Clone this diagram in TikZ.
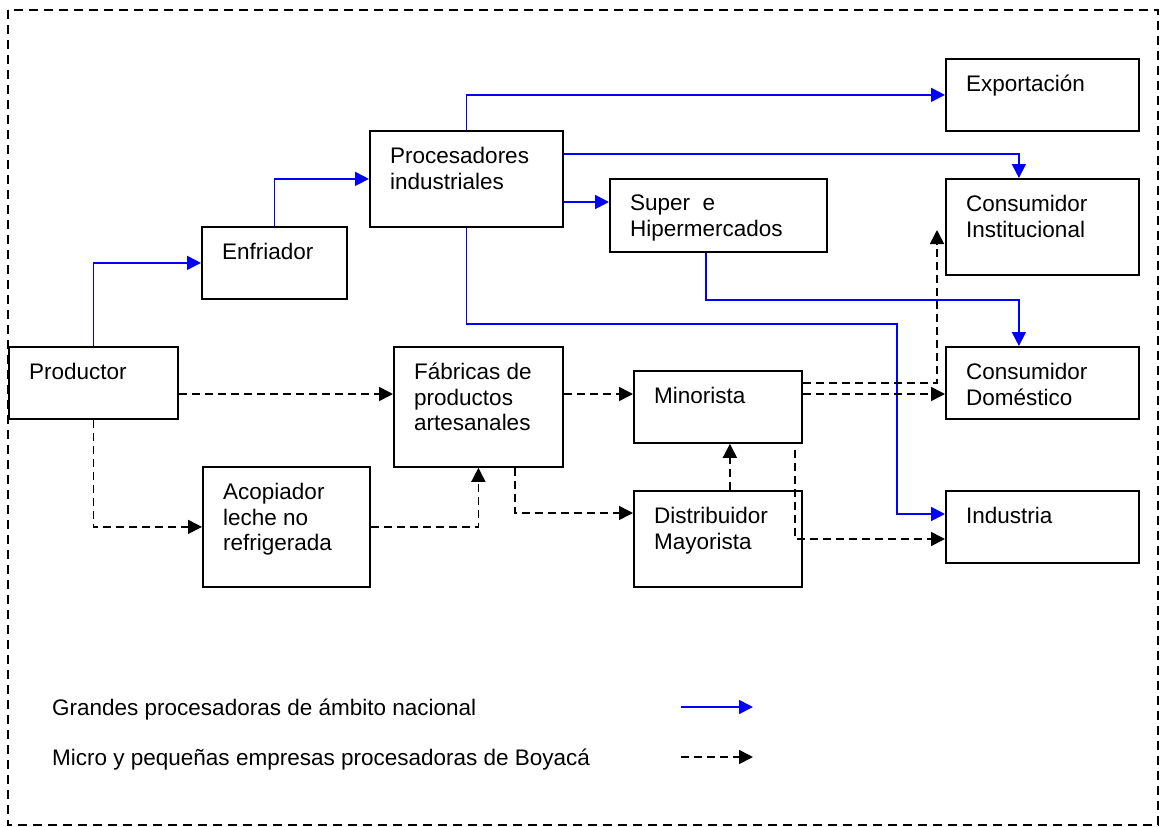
\documentclass[tikz,border=0pt]{standalone}
\usepackage{fontspec}
\setmainfont{Liberation Sans}
\usetikzlibrary{arrows.meta}
\definecolor{flowblue}{RGB}{0,0,255}
% box with its caption set at the upper left
\newcommand\caja[6]{%
  \node[box, minimum width=#4pt, minimum height=#5pt] (#1) at (#2,#3) {};
  \node[lbl] (#1-t) at ([xshift=21pt,yshift=-17pt]#1.north west) {#6};}
\begin{document}
\begin{tikzpicture}[x=1pt,y=-1pt,
  box/.style={draw=black, line width=1.8pt, inner sep=0pt, anchor=north west},
  lbl/.style={anchor=north west, align=left, inner sep=0pt,
              font=\fontsize{22.5}{25.5}\selectfont},
  legtxt/.style={anchor=base west, inner sep=0pt, font=\fontsize{22.5}{25.5}\selectfont},
  tip/.style={-{Triangle[length=14pt,width=14pt]}},
  blu/.style={draw=flowblue, line width=1.7pt, tip},
  dsh/.style={draw=black, line width=1.6pt, dash pattern=on 8pt off 5pt, tip},
  border/.style={draw=black, line width=1.3pt, dash pattern=on 9pt off 6pt}]
\useasboundingbox (0,0) rectangle (1163,827);
\draw[border] (8,10) rectangle (1158,825);

% boxes
\caja{prod}{8}{346}{169}{72}{Productor}
\caja{enf}{201}{226}{145}{72}{Enfriador}
\caja{proc}{369}{130}{193}{96}{Procesadores\\industriales}
\caja{sup}{609}{178}{217}{73}{Super~ e\\Hipermercados}
\caja{exp}{945}{58}{193}{72}{Exportación}
\caja{inst}{945}{178}{193}{96}{Consumidor\\Institucional}
\caja{dom}{945}{346}{193}{72}{Consumidor\\Doméstico}
\caja{ind}{945}{490}{193}{72}{Industria}
\caja{min}{633}{370}{168}{72}{Minorista}
\caja{dis}{633}{490}{168}{96}{Distribuidor\\Mayorista}
\caja{fab}{393}{346}{169}{120}{Fábricas de\\productos\\artesanales}
\caja{aco}{202}{466}{167}{120}{Acopiador\\leche no\\refrigerada}

% large national processors
\draw[blu] (prod.north) |- (enf.west);
\draw[blu] (enf.north) |- (proc.west);
\draw[blu] (proc.north) |- (exp.west);
\draw[blu] ([yshift=-24pt]proc.north east) -| ([xshift=-23.5pt]inst.north);
\draw[blu] ([yshift=-72pt]proc.north east) coordinate (ps) -- (ps -| sup.west);
\draw[blu] ([xshift=-12.5pt]sup.south) -- ++(0,47) -| ([xshift=-23.5pt]dom.north);
\coordinate (indin) at ([yshift=-24pt]ind.north west);
\draw[blu] (proc.south) -- ++(0,96) -| ([xshift=-48pt]indin) -- (indin);

% small processors of Boyacá
\draw[dsh] ([yshift=-48pt]prod.north east) coordinate (pf) -- (pf -| fab.west);
\draw[dsh] (prod.south) |- (aco.west);
\draw[dsh] (aco.east) -| (fab.south);
\draw[dsh] ([yshift=-48pt]fab.north east) coordinate (fm) -- (fm -| min.west);
\draw[dsh] ([xshift=36.5pt]fab.south) |- ([yshift=-23pt]dis.north west);
\draw[dsh] ([xshift=12pt]dis.north) -- ([xshift=12pt]min.south);
\draw[dsh] ([yshift=-24pt]min.north east) coordinate (md) -- (md -| dom.west);
\coordinate (insttip) at ([xshift=-8pt,yshift=-52pt]inst.north west);
\draw[dsh] ([yshift=-13pt]min.north east) -| (insttip);
\draw[dsh] ([xshift=-8pt,yshift=-6pt]min.south east) |- ([yshift=-49pt]ind.north west);

% legend
\node[legtxt] (leg1) at (52,715) {Grandes procesadoras de ámbito nacional};
\node[legtxt] (leg2) at (52,765) {Micro y pequeñas empresas procesadoras de Boyacá};
\coordinate (l1a) at (681,707); \coordinate (l1b) at (753,707);
\coordinate (l2a) at (681,757); \coordinate (l2b) at (753,757);
\draw[blu] (l1a) -- (l1b);
\draw[dsh] (l2a) -- (l2b);
\end{tikzpicture}
\end{document}
